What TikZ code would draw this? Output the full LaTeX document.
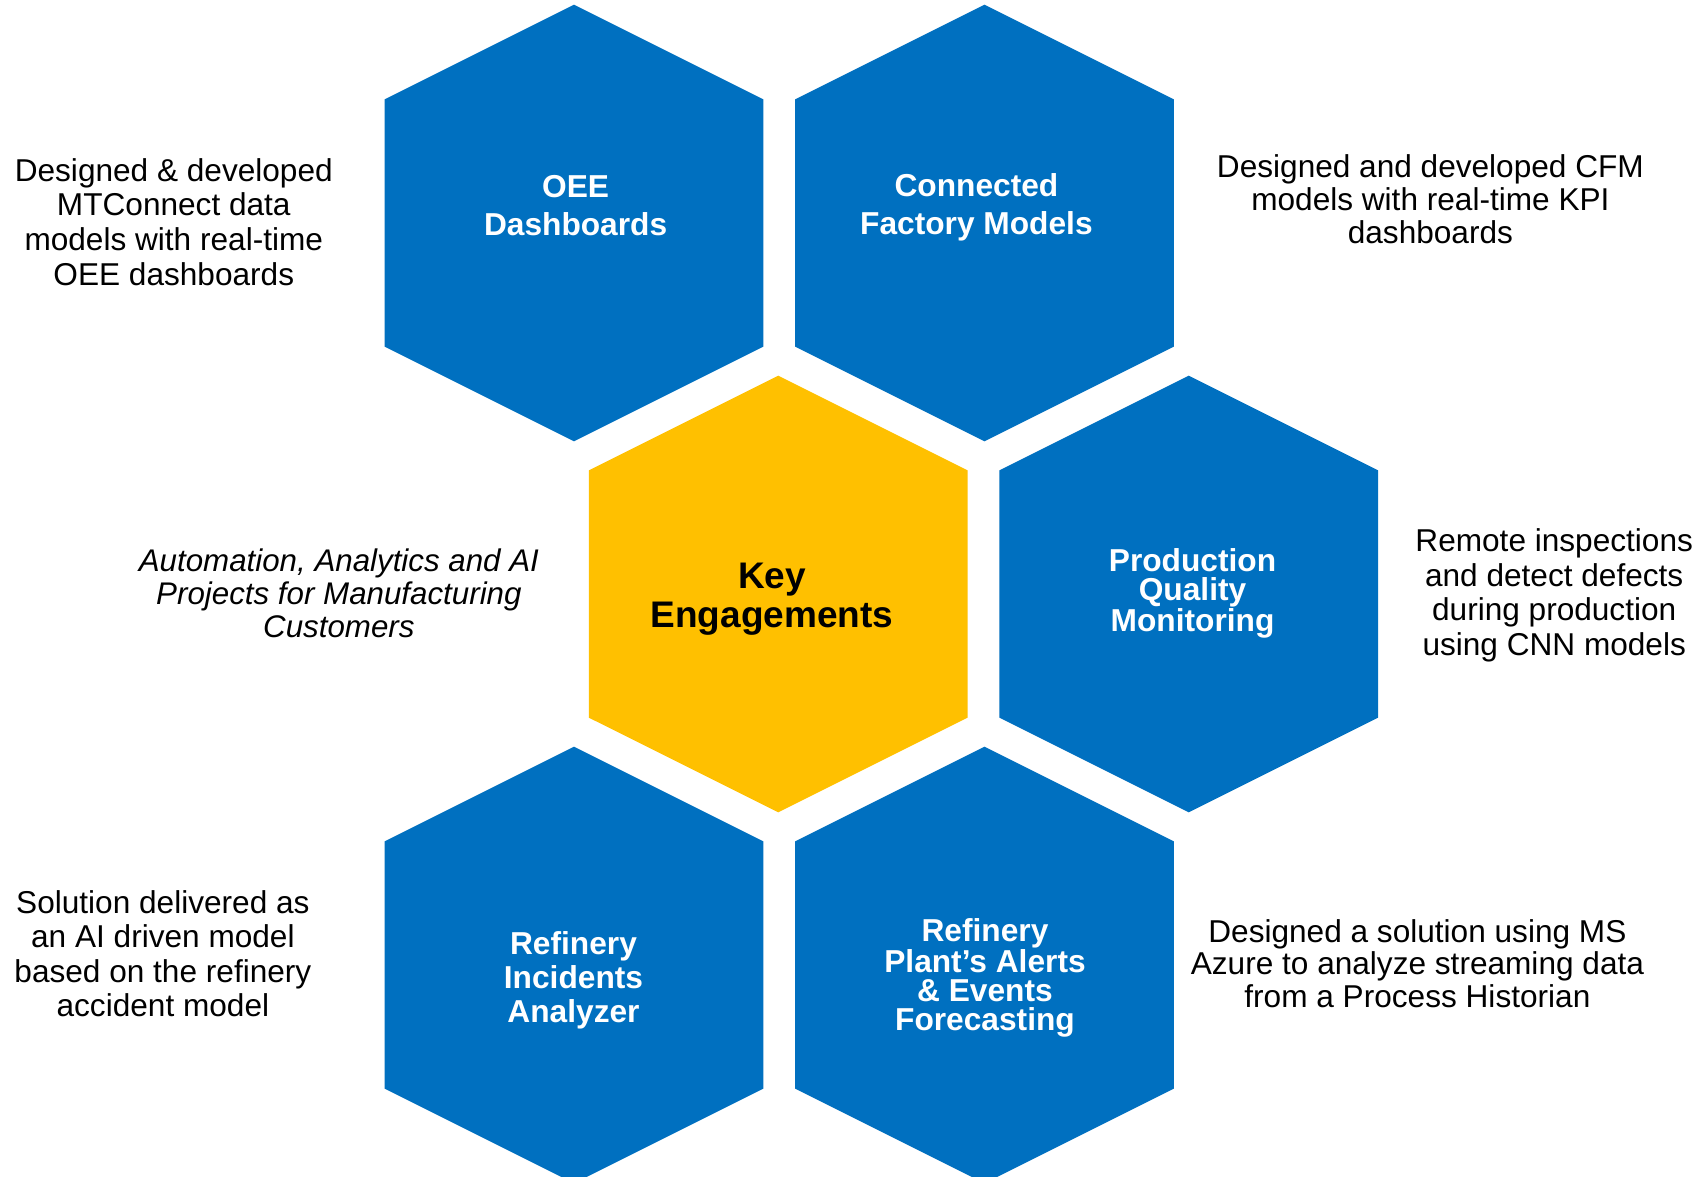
\documentclass[tikz,border=0pt]{standalone}
\usepackage{fontspec}
\setmainfont{Liberation Sans}
\definecolor{hexblue}{HTML}{0070C0}
\definecolor{hexyellow}{HTML}{FFC000}
\begin{document}
\begin{tikzpicture}[x=1pt,y=-1pt,
  hexa/.pic={\fill (0,-218.3) -- (189.3,-123.7) -- (189.3,123.7) -- (0,218.3) -- (-189.3,123.7) -- (-189.3,-123.7) -- cycle;},
  hexlabel/.style={text=white, font=\bfseries\fontsize{31.7}{38}\selectfont, align=center, inner sep=0pt},
  hexlabelmid/.style={text=white, font=\bfseries\fontsize{31.7}{34.2}\selectfont, align=center, inner sep=0pt},
  hexlabeltight/.style={text=white, font=\bfseries\fontsize{31.7}{29.3}\selectfont, align=center, inner sep=0pt},
  keylabel/.style={text=black, font=\bfseries\fontsize{37}{39}\selectfont, align=center, inner sep=0pt},
  desc/.style={text=black, font=\fontsize{31.6}{34.6}\selectfont, align=center, inner sep=0pt},
  desctight/.style={text=black, font=\fontsize{31.6}{32.6}\selectfont, align=center, inner sep=0pt},
  descit/.style={text=black, font=\itshape\fontsize{31.3}{33.1}\selectfont, align=center, inner sep=0pt}
]
\useasboundingbox (0,0) rectangle (1703,1177);
\clip (0,0) rectangle (1703,1177);
\fill[white] (0,0) rectangle (1703,1177);

% hexagons
\pic[fill=hexblue] (hOEE) at (574,223) {hexa};
\pic[fill=hexblue] (hCFM) at (984.5,223) {hexa};
\pic[fill=hexyellow] (hKey) at (778.2,594) {hexa};
\pic[fill=hexblue] (hPQM) at (1188.7,594) {hexa};
\pic[fill=hexblue] (hRIA) at (574,965) {hexa};
\pic[fill=hexblue] (hRPA) at (984.5,965) {hexa};

% hexagon labels
\node[hexlabel] (lOEE) at (575.6,205.8) {OEE\\Dashboards};
\node[hexlabel] (lCFM) at (976.4,207.2) {Connected\\Factory Models};
\node[keylabel] (lKey) at (772,599) {Key\\Engagements};
\node[hexlabeltight] (lPQM) at (1192.5,593.3) {Production\\Quality\\Monitoring};
\node[hexlabelmid] (lRIA) at (573.5,980) {Refinery\\Incidents\\Analyzer};
\node[hexlabeltight] (lRPA) at (985,978.2) {Refinery\\Plant’s Alerts\\\& Events\\Forecasting};

% descriptions
\node[desc] (dOEE) at (173.8,222) {Designed \& developed\\MTConnect data\\models with real-time\\OEE dashboards};
\node[desctight] (dCFM) at (1430.4,199.3) {Designed and developed CFM\\models with real-time KPI\\dashboards};
\node[descit] (dKey) at (338.9,593) {Automation, Analytics and AI\\Projects for Manufacturing\\Customers};
\node[desc] (dPQM) at (1554.2,595.5) {Remote inspections\\and detect defects\\during production\\using CNN models};
\node[desc] (dRIA) at (162.9,953.6) {Solution delivered as\\an AI driven model\\based on the refinery\\accident model};
\node[desctight] (dRPA) at (1417.4,963.4) {Designed a solution using MS\\Azure to analyze streaming data\\from a Process Historian};
\end{tikzpicture}
\end{document}
